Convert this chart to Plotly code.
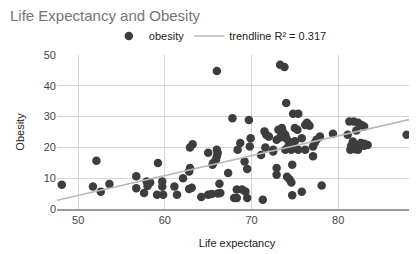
import plotly.graph_objects as go

life_expectancy = [
    48.1, 52.1, 51.7, 52.6, 53.6,
    56.7, 56.7, 57.6, 57.9, 58.3, 58.0, 59.2, 59.1, 59.8, 59.7, 59.7,
    61.1, 61.4, 62.1, 62.8, 62.9, 62.8, 63.1, 62.9, 63.2,
    64.2, 65.0, 65.4, 66.3, 66.4, 66.1, 65.0, 65.5, 65.6, 66.0, 66.1, 66.0, 65.9, 66.0, 67.3,
    67.8, 69.7, 68.4, 68.7, 69.9, 69.8, 69.2, 69.5, 68.3, 68.9, 69.3, 68.0, 68.3, 69.5,
    71.3, 71.5, 71.7, 72.0, 71.6, 71.1, 72.5, 72.9, 73.1, 72.9, 72.9,
    73.3, 73.8, 74.0, 74.8, 75.4,
    73.5, 73.6, 73.9, 74.3, 75.0, 75.3, 75.8, 76.2, 76.6, 76.4, 76.7,
    72.5, 73.9, 74.6, 75.4, 76.2, 74.8, 74.2, 75.0, 74.7, 74.1, 74.4, 74.6, 74.7, 75.8,
    77.1, 77.3, 77.5, 77.9, 77.1, 78.1, 79.4, 73.3, 74.0,
    81.3, 81.8, 82.3, 82.7, 83.0, 82.1, 81.1, 81.7, 81.4, 81.8, 82.2, 82.6, 83.0, 82.3,
    81.5, 82.0, 83.4, 83.0,
    87.9, 88.9, 88.9,
]
obesity = [
    7.9, 15.7, 7.3, 5.6, 8.1,
    10.6, 6.7, 5.2, 8.9, 8.6, 7.5, 14.9, 4.6, 4.6, 8.9, 7.3,
    7.3, 4.6, 10.0, 12.2, 13.3, 6.5, 6.9, 20.0, 21.0,
    3.9, 4.6, 4.9, 8.2, 5.2, 5.0, 18.3, 14.4, 15.0, 19.2, 18.2, 17.1, 16.0, 44.8, 11.7,
    29.5, 28.9, 19.2, 21.4, 23.0, 20.3, 15.4, 13.0, 6.3, 6.3, 5.7, 3.6, 3.6, 3.6,
    3.0, 25.2, 24.1, 23.5, 20.0, 17.5, 18.7, 22.5, 25.7, 13.3, 11.1,
    46.8, 46.1, 34.4, 30.9, 30.9,
    26.3, 25.2, 24.1, 21.9, 26.3, 25.7, 23.0, 27.3, 27.3, 28.0, 27.0,
    19.2, 19.2, 19.2, 19.2, 19.2, 20.8, 20.0, 22.0, 14.4, 10.5, 9.6, 8.6, 4.5, 5.6,
    17.1, 21.5, 22.5, 23.5, 20.3, 7.6, 24.4, 23.2, 23.0,
    28.4, 28.4, 28.0, 27.3, 26.8, 25.5, 24.1, 21.9, 19.2, 19.7, 20.3, 21.4, 21.2, 19.2,
    20.5, 19.4, 20.8, 20.5,
    24.1, 21.4, 19.8,
]
# linear trendline as shown in the reference (R² = 0.317)
trendline_slope = 0.645
trendline_intercept = -27.85
trendline_label = "trendline R² = 0.317"

x_ticks = [50, 60, 70, 80]
y_ticks = [0, 10, 20, 30, 40, 50]
x_range = [47.55, 89.1]
y_range = [0, 50]

trend_x = list(x_range)
trend_y = [trendline_slope * v + trendline_intercept for v in trend_x]

FONT = "Liberation Sans, Arial, sans-serif"
W, H = 409, 246  # page body has an 8px margin

fig = go.Figure()
fig.add_trace(go.Scatter(
    x=life_expectancy, y=obesity, mode="markers", name="obesity",
    marker=dict(color="#3d3d3d", size=8.5, line=dict(width=0)),
))
fig.add_trace(go.Scatter(
    x=trend_x, y=trend_y, mode="lines", name=trendline_label,
    line=dict(color="#b8b8b8", width=1.6),
))

fig.update_layout(
    width=W, height=H,
    margin=dict(l=49, r=0, t=47, b=45, autoexpand=False),
    paper_bgcolor="white", plot_bgcolor="white",
    font=dict(family=FONT, size=11, color="#444"),
    title=dict(text="Life Expectancy and Obesity", x=2/W, xanchor="left",
               y=1-8/H, yanchor="middle", yref="container",
               font=dict(size=15, color="#757575", family=FONT)),
    showlegend=True,
    legend=dict(orientation="h", x=0.144, xanchor="left", y=1 + 19/154, yanchor="middle",
                font=dict(size=11, color="#222"), itemwidth=30, bgcolor="rgba(0,0,0,0)"),
    xaxis=dict(range=x_range, tickvals=x_ticks, showgrid=True, gridcolor="#d6d6d6",
               gridwidth=1, zeroline=False, showline=True, linecolor="#9a9a9a", linewidth=2,
               ticks="", tickfont=dict(size=11, color="#444"),
               title=dict(text="Life expectancy", font=dict(size=11, color="#222"), standoff=14)),
    yaxis=dict(range=y_range, tickvals=y_ticks, showgrid=True, gridcolor="#d6d6d6",
               gridwidth=1, zeroline=False, ticks="", tickfont=dict(size=11, color="#444"),
               title=dict(text="Obesity", font=dict(size=11, color="#222"), standoff=16)),
)

fig.write_html("out.html")
